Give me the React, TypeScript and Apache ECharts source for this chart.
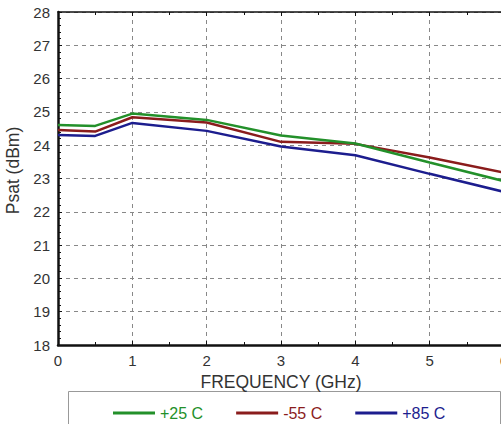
import React, { useEffect, useRef } from "react";
import * as echarts from "echarts";

const freqs = [0, 0.5, 1, 2, 3, 4, 5, 6];
const p25 = [24.61, 24.58, 24.95, 24.76, 24.29, 24.05, 23.48, 22.92];
const m55 = [24.46, 24.41, 24.84, 24.68, 24.1, 24.04, 23.63, 23.18];
const p85 = [24.31, 24.28, 24.67, 24.43, 23.96, 23.7, 23.14, 22.6];
const seriesNames = ["+25 C", "-55 C", "+85 C"];
const seriesColors = ["#23902a", "#8a1c1c", "#1c1d8e"];
const seriesValues = [p25, m55, p85];

const FONT = "Liberation Sans";

export default function App() {
  const ref = useRef<HTMLDivElement>(null);
  useEffect(() => {
    const chart = echarts.init(ref.current!, null, { renderer: "svg" });
    chart.setOption({
      animation: false,
      textStyle: { fontFamily: FONT },
      grid: { left: 58, top: 12, right: -3, bottom: 79, containLabel: false, outerBoundsMode: "none" },
      legend: {
        left: 108,
        top: 400,
        itemWidth: 42,
        itemHeight: 3,
        itemGap: 33,
        icon: "rect",
        textStyle: { fontSize: 16, fontFamily: FONT },
        data: seriesNames.map((n, i) => ({ name: n, textStyle: { color: seriesColors[i] } })),
      },
      graphic: [
        {
          type: "rect",
          shape: { x: 68.5, y: 391.5, width: 432, height: 40 },
          style: { fill: "none", stroke: "#999", lineWidth: 1 },
        },
      ],
      xAxis: [
        {
          type: "value",
          min: 0,
          max: 6,
          interval: 1,
          name: "FREQUENCY (GHz)",
          nameLocation: "middle",
          nameGap: 28,
          nameTextStyle: { fontSize: 17.5, color: "#333", fontFamily: FONT },
          axisLine: { lineStyle: { color: "#111", width: 2.5 } },
          axisTick: { inside: true, length: 4, lineStyle: { color: "#111" } },
          minorTick: { show: true, splitNumber: 2, length: 3, lineStyle: { color: "#111" } },
          axisLabel: { fontSize: 15, color: "#333", margin: 8 },
          splitLine: { show: true, lineStyle: { type: [4, 4], color: "#888", width: 1 } },
        },
        {
          type: "value",
          position: "top",
          min: 0,
          max: 6,
          interval: 1,
          axisLine: { show: true, lineStyle: { color: "#111", width: 1.5 } },
          axisTick: { show: true, inside: true, length: 4, lineStyle: { color: "#111" } },
          minorTick: { show: true, splitNumber: 2, length: 3, lineStyle: { color: "#111" } },
          axisLabel: { show: false },
          splitLine: { show: false },
        },
      ],
      yAxis: {
        type: "value",
        min: 18,
        max: 28,
        interval: 1,
        name: "Psat (dBm)",
        nameLocation: "middle",
        nameGap: 30,
        nameTextStyle: { fontSize: 17.5, color: "#333", fontFamily: FONT, padding: [0, 0, 0, 16] },
        axisLine: { show: true, lineStyle: { color: "#111", width: 2.5 } },
        axisTick: { show: true, inside: true, length: 4, lineStyle: { color: "#111" } },
        minorTick: { show: true, splitNumber: 5, length: 3, lineStyle: { color: "#111" } },
        axisLabel: { fontSize: 15, color: "#333", margin: 8 },
        splitLine: { show: true, lineStyle: { type: [4, 4], color: "#888", width: 1 } },
      },
      series: seriesNames.map((n, i) => ({
        name: n,
        type: "line",
        xAxisIndex: 0,
        data: freqs.map((f, j) => [f, seriesValues[i][j]]),
        showSymbol: false,
        symbol: "none",
        lineStyle: { color: seriesColors[i], width: 2.5 },
        itemStyle: { color: seriesColors[i] },
        z: 3 - i,
      })),
    });
    return () => chart.dispose();
  }, []);
  return <div ref={ref} style={{ width: 501, height: 424, position: "absolute", left: 0, top: 0 }} />;
}
